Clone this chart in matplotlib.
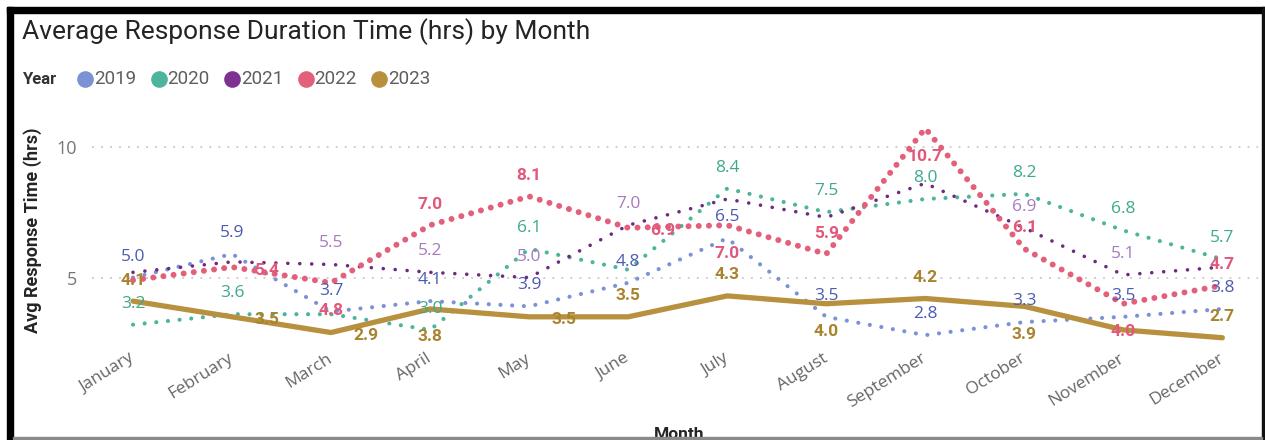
import matplotlib
matplotlib.use('Agg')
import matplotlib.pyplot as plt
from matplotlib.lines import Line2D
from matplotlib.patches import Rectangle

months = ['January', 'February', 'March', 'April', 'May', 'June', 'July',
          'August', 'September', 'October', 'November', 'December']
years = ['2019', '2020', '2021', '2022', '2023']

y2019 = [5.0, 5.9, 3.7, 4.1, 3.9, 4.8, 6.5, 3.5, 2.8, 3.3, 3.5, 3.8]
y2020 = [3.2, 3.6, 3.6, 3.0, 6.1, 5.3, 8.4, 7.5, 8.0, 8.2, 6.8, 5.7]
y2021 = [5.2, 5.6, 5.5, 5.2, 5.0, 7.0, 8.0, 7.3, 8.6, 6.9, 5.1, 5.4]
y2022 = [4.9, 5.4, 4.8, 7.0, 8.1, 6.9, 7.0, 5.9, 10.7, 6.1, 4.0, 4.7]
y2023 = [4.1, 3.5, 2.9, 3.8, 3.5, 3.5, 4.3, 4.0, 4.2, 3.9, 3.0, 2.7]

# where each data label sits: a = above, b = below, r = right, - = hidden
pos2019 = 'aaaaaaaaaaaa'
pos2020 = 'aa-aa-aaaaaa'
pos2021 = '--aaaa---aa-'
pos2022 = '-rbaarbababa'
pos2023 = 'arrbraabab-a'

W, H = 1265, 440
fig = plt.figure(figsize=(W / 100, H / 100), dpi=100)
fig.patch.set_facecolor('white')


def fx(x):
    return x / W


def fy(y):
    return 1 - y / H


def box(x0, y0, x1, y1, color):
    fig.patches.append(Rectangle((fx(x0), fy(y1)), fx(x1) - fx(x0), fy(y0) - fy(y1),
                                 transform=fig.transFigure, color=color, zorder=10))


ax = fig.add_axes([fx(92), fy(343), fx(1258) - fx(92), fy(120.5) - fy(343)])

series = [
    (y2019, pos2019, '#7b93d4', '#4a5bb0', 3.0, (0, (0.01, 2.8)), 'normal'),
    (y2020, pos2020, '#4db59c', '#3fa88f', 3.0, (0, (0.01, 2.8)), 'normal'),
    (y2021, pos2021, '#6e2a7e', '#a77bbd', 2.6, (0, (0.01, 3.3)), 'normal'),
    (y2022, pos2022, '#e3607b', '#e0587a', 4.3, (0, (0.01, 1.7)), 'bold'),
    (y2023, pos2023, '#b8913f', '#a8842f', 3.8, '-', 'bold'),
]
offsets = {'a': (0, 21), 'b': (0, -28), 'r': (35, -3)}

x = list(range(len(months)))
for vals, pos, lc, tc, lw, ls, wt in series:
    ax.plot(x, vals, color=lc, lw=lw, linestyle=ls, dash_capstyle='round',
            solid_capstyle='round', solid_joinstyle='round')
    for i, v in enumerate(vals):
        if pos[i] == '-':
            continue
        dx, dy = offsets[pos[i]]
        ax.annotate(f'{v:.1f}', (i, v), xytext=(dx, dy), textcoords='offset pixels',
                    ha='center', va='center', color=tc, fontsize=12.5, fontweight=wt,
                    family='Roboto' if wt == 'bold' else 'Open Sans', zorder=5)

ax.set_xlim(-0.414, 11.36)
ax.set_ylim(2.5, 11.0)
ax.set_yticks([5, 10])
ax.set_yticklabels(['5', '10'], family='Open Sans')
ax.set_xticks(x)
ax.set_xticklabels(months, family='Open Sans')
plt.setp(ax.get_xticklabels(), rotation=32, ha='right', va='center', rotation_mode='anchor')
ax.tick_params(axis='y', length=0, pad=11, labelsize=13, labelcolor='#777777')
ax.tick_params(axis='x', length=0, pad=10, labelsize=12.5, labelcolor='#666666')
ax.grid(axis='y', color='#c8c8c8', lw=1.3, linestyle=(0, (1, 4)))
ax.set_axisbelow(True)
for s in ax.spines.values():
    s.set_visible(False)

fig.text(fx(22), fy(32), 'Average Response Duration Time (hrs) by Month', family='Roboto',
         fontsize=19, color='#252423', va='center', ha='left')
fig.text(fx(33), fy(230), 'Avg Response Time (hrs)', rotation=90, ha='center', va='center',
         family='Roboto', fontweight='bold', fontsize=13, color='#252423')
fig.text(fx(679), fy(427), 'Month', ha='center', va='top', family='Roboto',
         fontweight='bold', fontsize=12.5, color='#252423')

# legend
legend_colors = ['#7b93d4', '#4db59c', '#7d3191', '#e3607b', '#b8913f']
fig.text(fx(22), fy(79), 'Year', family='Roboto', fontweight='bold', fontsize=12,
         color='#333333', va='center', ha='left')
for k, (yr, c) in enumerate(zip(years, legend_colors)):
    cx = 85 + k * 73.5
    fig.add_artist(Line2D([fx(cx)], [fy(79)], marker='o', markersize=12, color=c,
                          markeredgewidth=0, transform=fig.transFigure))
    fig.text(fx(cx + 9), fy(79), yr, family='Roboto', fontsize=13.5, color='#605e5c',
             va='center', ha='left')

# frame around the visual
box(7, 7, 1265, 13, 'black')
box(7, 7, 13, 440, 'black')
box(1262, 7, 1265, 440, '#111111')
box(13, 437, 1262, 439, '#8a8a8a')

fig.savefig('out.png', dpi=100)
